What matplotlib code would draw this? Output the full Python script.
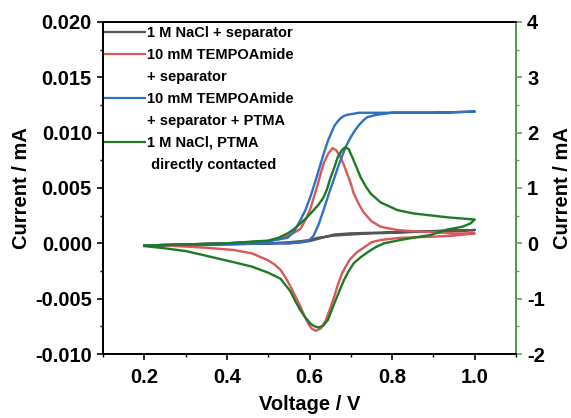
import matplotlib
matplotlib.use('Agg')
import matplotlib.pyplot as plt
from matplotlib.lines import Line2D
from matplotlib.ticker import MultipleLocator, FormatStrFormatter

plt.rcParams['font.family'] = ['Liberation Sans', 'DejaVu Sans']
plt.rcParams['font.weight'] = 'bold'
plt.rcParams['axes.unicode_minus'] = False

# 1 M NaCl + separator (left axis, mA)
gray_v = [0.2, 0.3, 0.4, 0.5, 0.55, 0.58, 0.6, 0.62, 0.64, 0.66, 0.7, 0.75, 0.8, 0.9, 1.0,
          0.9, 0.8, 0.75, 0.7, 0.66, 0.64, 0.62, 0.6, 0.58, 0.55, 0.5, 0.4, 0.3, 0.2]
gray_i = [-0.0002, -0.0001, 0.0, 0.0, 0.0001, 0.0002, 0.0003, 0.0005, 0.0006, 0.0007, 0.0008, 0.0009, 0.00095, 0.0011, 0.0012,
          0.0011, 0.001, 0.00095, 0.0009, 0.0008, 0.0006, 0.0004, 0.0002, 0.0001, 0.0, 0.0, -0.0001, -0.0002, -0.0002]

# 10 mM TEMPOAmide + separator (left axis, mA)
red_v = [0.2, 0.3, 0.4, 0.5, 0.53, 0.555, 0.578, 0.59, 0.602, 0.61, 0.619, 0.627, 0.634, 0.645, 0.656,
         0.665, 0.675, 0.684, 0.692, 0.7, 0.707, 0.72, 0.731, 0.75, 0.772, 0.813, 0.85, 0.9, 0.95, 1.0,
         0.95, 0.9, 0.82, 0.772, 0.75, 0.731, 0.715, 0.699, 0.689, 0.679, 0.669, 0.659, 0.649, 0.639,
         0.627, 0.615, 0.605, 0.598, 0.588, 0.578, 0.566, 0.554, 0.542, 0.53, 0.515, 0.498, 0.46,
         0.416, 0.35, 0.256, 0.2]
red_i = [-0.0002, -0.0001, 0.0, 0.0002, 0.0004, 0.0008, 0.0013, 0.0021, 0.0031, 0.0041, 0.0052, 0.0063, 0.0072, 0.0081, 0.0086,
         0.0084, 0.0078, 0.007, 0.0062, 0.0054, 0.0045, 0.0035, 0.0028, 0.002, 0.0015, 0.0012, 0.0011, 0.001, 0.0009, 0.0009,
         0.0007, 0.0006, 0.0005, 0.0003, 0.0001, -0.0004, -0.0008, -0.0014, -0.002, -0.0027, -0.0037, -0.0049, -0.006, -0.007,
         -0.0077, -0.0079, -0.0077, -0.0073, -0.0066, -0.0057, -0.0048, -0.0039, -0.0031, -0.0024, -0.0019, -0.0015, -0.0009,
         -0.0006, -0.0004, -0.0002, -0.0002]

# 10 mM TEMPOAmide + separator + PTMA (left axis, mA)
blue_v = [0.2, 0.3, 0.4, 0.45, 0.5, 0.547, 0.563, 0.578, 0.59, 0.602, 0.615, 0.627, 0.636, 0.645, 0.653, 0.66,
          0.668, 0.675, 0.683, 0.69, 0.705, 0.72, 0.8, 0.9, 1.0,
          0.9, 0.8, 0.78, 0.76, 0.74, 0.73, 0.72, 0.71, 0.7, 0.69, 0.68, 0.67, 0.66, 0.647, 0.634, 0.622, 0.61,
          0.6, 0.58, 0.55, 0.5, 0.4, 0.3, 0.2]
blue_i = [-0.0002, -0.0001, 0.0, 0.0001, 0.0002, 0.0005, 0.0011, 0.0021, 0.003, 0.0042, 0.0057, 0.0072, 0.0083, 0.0093, 0.01, 0.0106,
          0.011, 0.0113, 0.0115, 0.0116, 0.0117, 0.0118, 0.0118, 0.0118, 0.0119,
          0.0118, 0.0118, 0.0117, 0.0116, 0.0114, 0.0111, 0.0107, 0.0102, 0.0096, 0.0089, 0.008, 0.007, 0.0059, 0.0045, 0.003, 0.0017, 0.0007,
          0.0003, 0.0001, 0.0, 0.0, -0.0001, -0.0001, -0.0002]

# 1 M NaCl, PTMA directly contacted (right axis, mA)
green_v = [0.2, 0.3, 0.4, 0.5, 0.525, 0.547, 0.563, 0.578, 0.594, 0.61, 0.622, 0.634, 0.643, 0.651, 0.66, 0.668,
           0.678, 0.687, 0.695, 0.704, 0.714, 0.724, 0.736, 0.748, 0.772, 0.813, 0.852, 0.934, 1.0,
           0.99, 0.97, 0.934, 0.893, 0.85, 0.82, 0.78, 0.76, 0.741, 0.724, 0.707, 0.695, 0.683, 0.673, 0.663,
           0.653, 0.644, 0.633, 0.622, 0.612, 0.602, 0.59, 0.578, 0.566, 0.554, 0.53, 0.5, 0.46, 0.416, 0.37,
           0.336, 0.3, 0.25, 0.2]
green_i = [-0.04, -0.02, 0.0, 0.05, 0.1, 0.18, 0.26, 0.36, 0.47, 0.6, 0.7, 0.83, 0.99, 1.19, 1.37, 1.55,
           1.68, 1.74, 1.7, 1.55, 1.37, 1.19, 1.03, 0.9, 0.74, 0.6, 0.54, 0.47, 0.43,
           0.36, 0.3, 0.25, 0.15, 0.1, 0.06, 0.0, -0.07, -0.16, -0.25, -0.36, -0.5, -0.67, -0.85, -1.03,
           -1.22, -1.39, -1.49, -1.52, -1.5, -1.45, -1.34, -1.21, -1.05, -0.87, -0.64, -0.53, -0.42, -0.34, -0.26,
           -0.2, -0.14, -0.09, -0.05]

labels = ['1 M NaCl + separator', '10 mM TEMPOAmide', '+ separator', '10 mM TEMPOAmide',
          '+ separator + PTMA', '1 M NaCl, PTMA', ' directly contacted']

c_gray = '#555555'
c_red = '#d9575a'
c_blue = '#2f6fc4'
c_green = '#1e7a22'
c_axis_green = '#5aa85a'

fig = plt.figure(figsize=(5.71, 4.18), dpi=100)
ax = fig.add_axes([0.1804, 0.1531, 0.7233, 0.7943])
ax2 = ax.twinx()

ax.plot(gray_v, gray_i, color=c_gray, lw=1.7)
ax.plot(red_v, red_i, color=c_red, lw=1.7)
ax.plot(blue_v, blue_i, color=c_blue, lw=1.7)
ax2.plot(green_v, green_i, color=c_green, lw=1.7)

ax.set_xlim(0.1, 1.1)
ax.set_ylim(-0.010, 0.020)
ax2.set_ylim(-2, 4)

ax.xaxis.set_major_locator(MultipleLocator(0.2))
ax.xaxis.set_minor_locator(MultipleLocator(0.1))
ax.xaxis.set_major_formatter(FormatStrFormatter('%.1f'))
ax.yaxis.set_major_locator(MultipleLocator(0.005))
ax.yaxis.set_minor_locator(MultipleLocator(0.0025))
ax.yaxis.set_major_formatter(FormatStrFormatter('%.3f'))
ax2.yaxis.set_major_locator(MultipleLocator(1))
ax2.yaxis.set_minor_locator(MultipleLocator(0.5))

for a in (ax, ax2):
    a.tick_params(which='major', direction='out', length=4, width=1.2, labelsize=14.5, pad=4)
    a.tick_params(which='minor', direction='out', length=2.5, width=1.0)
    for s in a.spines.values():
        s.set_linewidth(1.3)

ax.tick_params(axis='x', which='major', pad=6)
ax2.spines['right'].set_color(c_axis_green)
ax2.tick_params(axis='y', which='both', colors=c_axis_green, labelcolor='black')

ax.set_xlabel('Voltage / V', fontsize=14.5, fontweight='bold', labelpad=6)
ax.set_ylabel('Current / mA', fontsize=14.5, fontweight='bold', labelpad=3)
ax2.set_ylabel('Current / mA', fontsize=14.5, fontweight='bold', labelpad=6)

# legend: one row per text line, handle on the first line of each entry
blank = Line2D([], [], color='none')
handles = [Line2D([], [], color=c_gray, lw=1.6),
           Line2D([], [], color=c_red, lw=1.6), blank,
           Line2D([], [], color=c_blue, lw=1.6), blank,
           Line2D([], [], color=c_green, lw=1.6), blank]
leg = ax2.legend(handles, labels, loc='upper left', frameon=False,
                 handlelength=2.7, handletextpad=0.15, labelspacing=0.54,
                 borderaxespad=0.0, borderpad=0.3, prop={'weight': 'bold', 'size': 10.5})
leg.set_bbox_to_anchor((-0.005, 1.0), transform=ax2.transAxes)

fig.savefig('out.png', dpi=100)
